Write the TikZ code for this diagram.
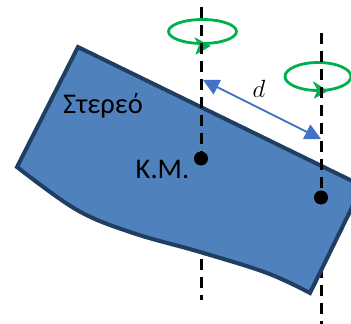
\documentclass[tikz,border=0pt]{standalone}
\usepackage{fontspec}
\setmainfont{Carlito}
\usetikzlibrary{arrows.meta}
\definecolor{bodyfill}{HTML}{4F81BD}
\definecolor{bodyline}{HTML}{203D62}
\definecolor{rotgreen}{HTML}{00B050}
\definecolor{darrow}{HTML}{4472C4}
\tikzset{
  axisline/.style={black, line width=3pt, dash pattern=on 11pt off 7pt},
  rotell/.style={rotgreen, line width=2.8pt},
  rothead/.style={fill=rotgreen, draw=rotgreen, line width=0.8pt, line join=round},
  cmdot/.style={circle, fill=black, inner sep=0pt, minimum size=14pt},
  lbl/.style={inner sep=0pt, anchor=base, font=\fontsize{28.5}{30}\selectfont}
}
\begin{document}
\begin{tikzpicture}[x=1pt,y=-1pt]
\useasboundingbox (0,0) rectangle (351,324);
\clip (0,0) rectangle (351,324);
% axis end points
\coordinate (t1) at (201,7);
\coordinate (b1) at (201,300);
\coordinate (t2) at (321,33);
\coordinate (b2) at (321,326);
% rotation ellipses
\draw[rotell] (202.5,31.5) ellipse [x radius=34, y radius=12];
\draw[rotell] (318,76.5) ellipse [x radius=33, y radius=14];
% full axes (behind body)
\draw[axisline] (t1) -- (b1);
\draw[axisline] (t2) -- (b2);
% arrow heads on the ellipses
\path[rothead] (210,46) -- (195,38) -- (199.5,45) -- (196,54) -- cycle;
\path[rothead] (327,91) -- (313.5,82) -- (318,90) -- (314.5,98) -- cycle;
% body
\draw[bodyline, fill=bodyfill, line width=4pt, line join=miter]
  (78,47) -- (362.5,186) -- (310,293)
  -- plot[smooth, tension=0.6] coordinates {(310,293) (267,273) (200,252) (133,233) (77,210) (17,167)}
  -- cycle;
% dots
\node[cmdot] (cm1) at (201,158.5) {};
\node[cmdot] (cm2) at (321,197.5) {};
% axes in front, down to the dots
\draw[axisline] (t1) -- (cm1.center);
\draw[axisline] (t2) -- (cm2.center);
% distance arrow
\coordinate (d1) at (203,80);
\coordinate (d2) at (321,139);
\draw[darrow, line width=2pt, {Triangle[length=16pt,width=16pt]}-{Triangle[length=16pt,width=16pt]}] (d1) -- (d2);
\node[inner sep=0pt, anchor=base] (dl) at (259,97) {\fontsize{27}{29}\selectfont$d$};
% labels
\node[lbl] (st) at (103,113) {Στερεό};
\node[lbl] (km) at (162.5,178) {Κ.Μ.};
\end{tikzpicture}
\end{document}
